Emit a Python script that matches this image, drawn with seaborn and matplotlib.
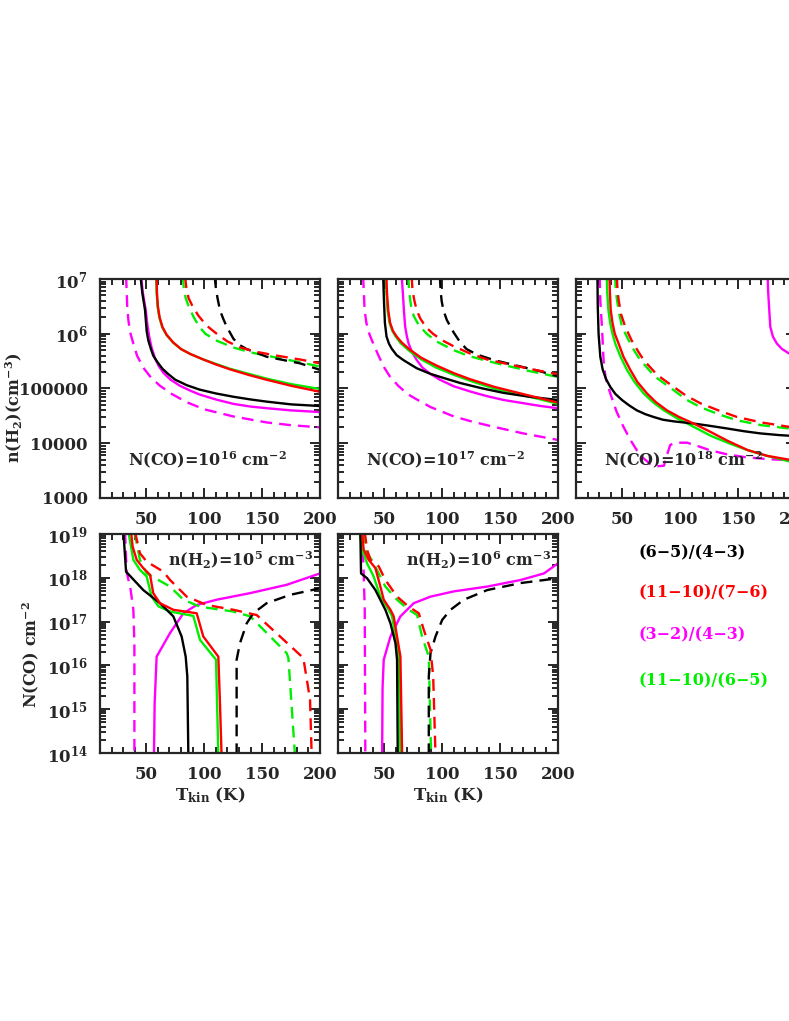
import numpy as np
import pandas as pd
import matplotlib
matplotlib.use("Agg")
import matplotlib.pyplot as plt
import seaborn as sns

# line ratio names and colours
RATIOS = ["(6-5)/(4-3)", "(11-10)/(7-6)", "(3-2)/(4-3)", "(11-10)/(6-5)"]
COLORS = {"k": "black", "r": "red", "m": "magenta", "g": "#00ee00"}

# ---- panel 1: N(CO)=1e16, log n(H2) vs Tkin ----
p1_k_solid = ([45, 46.5, 48.9, 50.3, 51.7, 54, 56, 60, 64, 68, 75, 85, 96, 110, 125, 140, 154, 175, 200],
              [7.05, 6.75, 6.43, 6.05, 5.88, 5.72, 5.6, 5.47, 5.36, 5.28, 5.16, 5.06, 4.98, 4.91, 4.85, 4.8,
               4.76, 4.71, 4.68])
p1_m_solid = ([45.5, 47, 49.5, 51, 52.5, 54.5, 57.5, 61, 65, 71, 79, 88, 96, 110, 125, 140, 154, 175, 200],
              [7.05, 6.75, 6.43, 6.15, 5.95, 5.75, 5.55, 5.4, 5.28, 5.16, 5.05, 4.96, 4.89, 4.8, 4.72, 4.67,
               4.64, 4.6, 4.57])
p1_m_dash = ([32.5, 33, 33.5, 34.5, 36, 38.8, 42, 47.4, 54, 61.8, 72, 84.9, 100, 125, 154, 175, 200],
             [7.05, 6.8, 6.5, 6.25, 6.03, 5.82, 5.6, 5.38, 5.2, 5.05, 4.9, 4.75, 4.62, 4.49, 4.38, 4.33, 4.29])
p1_r_solid = ([58.8, 59.2, 60, 61.5, 64, 67.6, 73.3, 80, 88, 99.2, 110, 122.3, 138, 153.9, 175, 200],
              [7.05, 6.75, 6.5, 6.3, 6.12, 5.98, 5.84, 5.72, 5.63, 5.53, 5.44, 5.35, 5.25, 5.16, 5.05, 4.94])
p1_g_solid = ([58.5, 58.9, 59.7, 61.2, 63.7, 67.3, 73, 80, 88, 99.2, 110, 122.3, 138, 153.9, 175, 200],
              [7.05, 6.75, 6.5, 6.3, 6.12, 5.98, 5.84, 5.72, 5.63, 5.53, 5.45, 5.36, 5.27, 5.18, 5.08, 4.99])
p1_r_dash = ([83.5, 84.5, 86.5, 90, 95, 102, 110.8, 120, 131, 145, 160, 182.7, 200],
             [7.05, 6.85, 6.65, 6.5, 6.33, 6.15, 6.0, 5.86, 5.75, 5.67, 5.61, 5.53, 5.46])
p1_g_dash = ([81.5, 82.3, 84, 87, 91, 96, 101, 110, 125, 140, 154, 182.7, 200],
             [7.05, 6.85, 6.65, 6.48, 6.3, 6.12, 6.0, 5.88, 5.75, 5.66, 5.6, 5.48, 5.4])
p1_k_dash = ([109, 110, 111.5, 113.6, 116.5, 119.4, 125.2, 130, 136.7, 154, 182.7, 200],
             [7.05, 6.85, 6.65, 6.43, 6.27, 6.13, 5.91, 5.8, 5.72, 5.58, 5.46, 5.34])

# ---- panel 2: N(CO)=1e17 ----
p2_k_solid = ([49, 49.7, 50.5, 51.9, 54, 56.3, 60.6, 66.4, 78, 89.5, 100, 115.6, 135, 153, 175, 200],
              [7.05, 6.6, 6.2, 5.95, 5.82, 5.73, 5.61, 5.52, 5.37, 5.27, 5.2, 5.1, 5.0, 4.92, 4.85, 4.79])
p2_m_solid = ([65, 66, 67, 68, 69.5, 71, 74, 78, 83, 89.5, 98, 110, 125, 138.7, 153, 167.6, 185, 200],
              [7.05, 6.75, 6.4, 6.13, 5.95, 5.82, 5.66, 5.52, 5.38, 5.27, 5.16, 5.04, 4.94, 4.86, 4.79, 4.74,
               4.68, 4.64])
p2_r_solid = ([51.8, 52.3, 53.4, 55, 57.5, 60.6, 65, 72, 82, 95, 110, 124, 145, 167.6, 185, 200],
              [7.05, 6.75, 6.43, 6.2, 6.05, 5.95, 5.84, 5.71, 5.56, 5.42, 5.28, 5.17, 5.03, 4.91, 4.82, 4.74])
p2_g_solid = ([51.3, 51.8, 52.8, 54.5, 57, 59.8, 64, 72, 82, 95, 110, 127, 145, 167.6, 185, 200],
              [7.05, 6.75, 6.43, 6.2, 6.05, 5.95, 5.83, 5.68, 5.53, 5.38, 5.25, 5.12, 5.0, 4.89, 4.8, 4.72])
p2_r_dash = ([73.6, 74.3, 76, 78, 81, 86, 92, 100, 110, 124, 138.7, 160, 180, 200],
             [7.05, 6.8, 6.6, 6.43, 6.28, 6.12, 6.0, 5.88, 5.77, 5.64, 5.53, 5.43, 5.34, 5.26])
p2_g_dash = ([70.7, 71.4, 72.5, 73.6, 76, 80, 86.6, 95, 110, 122, 135.8, 155, 175, 200],
             [7.05, 6.8, 6.6, 6.43, 6.3, 6.15, 6.0, 5.86, 5.7, 5.6, 5.52, 5.42, 5.32, 5.21])
p2_k_dash = ([98, 98.6, 99.5, 101, 104, 110, 115, 121, 130, 144.5, 160, 182, 200],
             [7.05, 6.8, 6.6, 6.43, 6.25, 6.02, 5.86, 5.72, 5.62, 5.52, 5.44, 5.33, 5.22])
p2_m_dash = ([31.7, 32.2, 33, 34.5, 37, 40.4, 45, 50, 54.8, 62, 70, 78, 90, 110, 125, 144.5, 170, 200],
             [7.05, 6.8, 6.43, 6.2, 6.0, 5.82, 5.6, 5.38, 5.22, 5.05, 4.9, 4.8, 4.66, 4.49, 4.4, 4.3, 4.18,
              4.06])

# ---- panel 3: N(CO)=1e18 ----
p3_k_solid = ([28.5, 28.8, 29.5, 31, 33, 36, 39.6, 44, 49.7, 56, 62.6, 70, 77, 85, 94.3, 111.6, 125, 140.4,
               155, 169.2, 185, 200],
              [7.05, 6.5, 6.0, 5.58, 5.35, 5.17, 5.03, 4.9, 4.79, 4.69, 4.6, 4.53, 4.48, 4.43, 4.4, 4.36, 4.32,
               4.27, 4.22, 4.18, 4.15, 4.13])
p3_r_solid = ([38.9, 39.3, 40, 41.5, 43.5, 46.8, 51, 56.9, 63, 71.3, 79, 88.6, 99, 111.6, 125, 140.4, 157.7,
               175, 194, 200],
              [7.05, 6.75, 6.43, 6.2, 6.0, 5.82, 5.58, 5.34, 5.12, 4.91, 4.75, 4.6, 4.48, 4.36, 4.22, 4.05,
               3.88, 3.77, 3.7, 3.68])
p3_g_solid = ([36.6, 37, 38, 39.5, 41.5, 43.9, 48.5, 54, 60.5, 68.4, 76.5, 86, 97, 111.6, 127, 143.3, 160,
               175, 194, 200],
              [7.05, 6.75, 6.43, 6.2, 6.0, 5.82, 5.58, 5.34, 5.12, 4.91, 4.75, 4.6, 4.46, 4.3, 4.13, 3.99,
               3.86, 3.77, 3.67, 3.64])
p3_r_dash = ([45.3, 45.8, 46.8, 49, 52.5, 58, 63, 68.4, 80, 94.3, 105, 117.4, 133, 149, 170, 194, 200],
             [7.05, 6.8, 6.62, 6.35, 6.13, 5.88, 5.7, 5.52, 5.25, 5.03, 4.87, 4.73, 4.6, 4.48, 4.38, 4.3, 4.28])
p3_g_dash = ([43.8, 44.3, 45.5, 47.5, 49.7, 55, 60, 65.5, 78, 94.3, 105, 117.4, 133, 149, 170, 194, 200],
             [7.05, 6.8, 6.6, 6.35, 6.13, 5.9, 5.7, 5.52, 5.22, 4.97, 4.8, 4.66, 4.53, 4.42, 4.33, 4.27, 4.25])
p3_m_dash = ([30.4, 31, 32.4, 33.8, 35.5, 39.6, 45, 51, 57, 62.6, 68, 74.2, 80, 86, 88, 91.4, 96, 106, 115,
              126, 140, 154.8, 175, 194, 200],
             [7.05, 6.6, 6.13, 5.52, 5.2, 4.91, 4.58, 4.3, 4.06, 3.87, 3.73, 3.62, 3.58, 3.59, 3.75, 3.97, 4.01,
              4.01, 3.95, 3.87, 3.8, 3.75, 3.71, 3.69, 3.68])
p3_m_solid = ([175.5, 176, 177, 177.8, 180, 183.5, 188, 194, 200],
              [7.05, 6.75, 6.4, 6.13, 5.95, 5.82, 5.72, 5.64, 5.58])

# ---- panel 4: n(H2)=1e5, log N(CO) vs Tkin ----
p4_k_solid = ([30.2, 32.5, 47.4, 61.8, 73.3, 80.5, 84, 85.4, 86.3],
              [19.05, 18.14, 17.72, 17.42, 17.12, 16.66, 16.20, 15.75, 13.95])
p4_r_solid = ([36.8, 38.2, 41.7, 47.4, 53.2, 56, 61.8, 73.3, 93.5, 99.2, 112.2, 113.6, 115],
              [19.05, 18.71, 18.41, 18.22, 18.07, 17.65, 17.42, 17.27, 17.19, 16.66, 16.20, 15.14, 13.95])
p4_g_solid = ([34.5, 36.8, 38.8, 44.5, 50.3, 54.6, 60.4, 70.5, 90.6, 96.4, 110.2, 112.2],
              [19.05, 18.71, 18.41, 18.18, 18.03, 17.57, 17.35, 17.23, 17.13, 16.58, 16.13, 13.95])
p4_r_dash = ([40.2, 44.5, 50.3, 64.7, 70.5, 84.9, 102.1, 125.2, 145.3, 165.5, 185.6, 191.4, 192.8],
             [19.05, 18.56, 18.37, 18.14, 17.95, 17.57, 17.38, 17.27, 17.15, 16.66, 16.17, 15.22, 13.95])
p4_g_dash = ([39.7, 44.5, 50.3, 70.5, 82, 96.4, 125.2, 139.6, 154, 171.2, 172.7, 178.4],
             [19.05, 18.41, 18.10, 17.80, 17.50, 17.34, 17.23, 17.12, 16.74, 16.28, 16.17, 13.95])
p4_k_dash = ([128, 128, 130.9, 136.7, 142.4, 153.9, 174.1, 200],
             [13.95, 16.13, 16.51, 16.96, 17.19, 17.42, 17.61, 17.76])
p4_m_solid = ([56.6, 57.2, 58.9, 70.5, 82, 93.5, 110.8, 139.6, 171.2, 200],
              [13.95, 15.14, 16.20, 16.74, 17.19, 17.38, 17.50, 17.65, 17.84, 18.10])
p4_m_dash = ([31.6, 33, 36.5, 38.8, 39.7, 39.7],
             [19.05, 18.14, 17.72, 17.27, 16.51, 13.95])

# ---- panel 5: n(H2)=1e6 ----
p5_k_solid = ([29.3, 29.9, 35.1, 42.3, 50.9, 55.3, 59.6, 61, 61.6],
              [19.05, 18.10, 17.99, 17.72, 17.27, 16.96, 16.51, 16.13, 13.95])
p5_r_solid = ([30.8, 32.2, 36.5, 42.3, 46.6, 49.5, 55.3, 58.1, 61, 63.9, 65.4],
              [19.05, 18.64, 18.41, 18.22, 17.80, 17.50, 17.27, 17.12, 16.66, 16.20, 13.95])
p5_g_solid = ([28.7, 30.8, 35.1, 40.8, 46.6, 53.8, 56.7, 62.5, 63.9],
              [19.05, 18.64, 18.33, 18.03, 17.57, 17.27, 17.12, 16.20, 13.95])
p5_r_dash = ([33.1, 35.1, 38, 45.2, 50.9, 61, 71.1, 79.8, 84.1, 89.9, 92.2, 94.2],
             [19.05, 18.64, 18.41, 18.26, 17.95, 17.57, 17.34, 17.19, 16.81, 16.36, 15.75, 13.95])
p5_g_dash = ([31.6, 33.6, 40.8, 50.9, 61, 71.1, 78.3, 82.6, 88.4, 90.4],
             [19.05, 18.64, 18.33, 17.80, 17.50, 17.27, 17.15, 16.66, 16.20, 13.95])
p5_k_dash = ([88.4, 88.4, 89.9, 94.2, 100, 107.2, 118.7, 138.9, 167.7, 200],
             [13.95, 15.75, 16.28, 16.66, 17.04, 17.27, 17.50, 17.72, 17.88, 17.99])
p5_m_solid = ([48.1, 48.5, 49.5, 55.3, 63.9, 75.4, 89.9, 110, 138.9, 167.7, 187.9, 200],
              [13.95, 15.5, 16.13, 16.66, 17.12, 17.42, 17.57, 17.69, 17.80, 17.95, 18.10, 18.33])
p5_m_dash = ([30.8, 32.2, 33.1, 33.6],
             [19.05, 18.10, 17.27, 13.95])

panel_curves = [
    [("m", "-", p1_m_solid), ("m", "--", p1_m_dash), ("g", "-", p1_g_solid), ("g", "--", p1_g_dash),
     ("k", "-", p1_k_solid), ("k", "--", p1_k_dash), ("r", "-", p1_r_solid), ("r", "--", p1_r_dash)],
    [("m", "-", p2_m_solid), ("m", "--", p2_m_dash), ("g", "-", p2_g_solid), ("g", "--", p2_g_dash),
     ("k", "-", p2_k_solid), ("k", "--", p2_k_dash), ("r", "-", p2_r_solid), ("r", "--", p2_r_dash)],
    [("m", "-", p3_m_solid), ("m", "--", p3_m_dash), ("g", "-", p3_g_solid), ("g", "--", p3_g_dash),
     ("k", "-", p3_k_solid), ("r", "-", p3_r_solid), ("r", "--", p3_r_dash)],
    [("m", "-", p4_m_solid), ("m", "--", p4_m_dash), ("g", "-", p4_g_solid), ("g", "--", p4_g_dash),
     ("k", "-", p4_k_solid), ("k", "--", p4_k_dash), ("r", "-", p4_r_solid), ("r", "--", p4_r_dash)],
    [("m", "-", p5_m_solid), ("m", "--", p5_m_dash), ("g", "-", p5_g_solid), ("g", "--", p5_g_dash),
     ("k", "-", p5_k_solid), ("k", "--", p5_k_dash), ("r", "-", p5_r_solid), ("r", "--", p5_r_dash)],
]
panel_labels = [r"N(CO)=10$^{16}$ cm$^{-2}$", r"N(CO)=10$^{17}$ cm$^{-2}$", r"N(CO)=10$^{18}$ cm$^{-2}$",
                r"n(H$_2$)=10$^{5}$ cm$^{-3}$", r"n(H$_2$)=10$^{6}$ cm$^{-3}$"]

sns.set_style("ticks")
plt.rcParams["font.family"] = ["DejaVu Serif"]
plt.rcParams["font.weight"] = "bold"
plt.rcParams["mathtext.fontset"] = "custom"
plt.rcParams["mathtext.rm"] = "DejaVu Serif:bold"
plt.rcParams["mathtext.bf"] = "DejaVu Serif:bold"
plt.rcParams["mathtext.it"] = "DejaVu Serif:bold"
plt.rcParams["mathtext.default"] = "bf"

W, H = 789, 1021
fig = plt.figure(figsize=(W / 100, H / 100), dpi=100)


def frac(x0, y0, w, h):
    return [x0 / W, 1 - (y0 + h) / H, w / W, h / H]


boxes = [frac(100, 279, 220, 219), frac(338, 279, 220, 219), frac(576, 279, 220, 219),
         frac(100, 534, 220, 219), frac(338, 534, 220, 219)]

for i, box in enumerate(boxes):
    ax = fig.add_axes(box)
    for c, ls, (t, v) in panel_curves[i]:
        df = pd.DataFrame({"T": t, "val": 10 ** np.array(v)})
        sns.lineplot(data=df, x="T", y="val", ax=ax, sort=False, estimator=None,
                     color=COLORS[c], lw=1.7,
                     linestyle=(0, (5, 3)) if ls == "--" else "-")
    ax.set_yscale("log")
    ax.set_xlim(10, 200)
    top = i < 3
    ax.set_ylim((1e3, 1e7) if top else (1e14, 1e19))
    ax.set_xticks([50, 100, 150, 200])
    ax.set_xticks(np.arange(10, 200, 10), minor=True)
    ax.tick_params(which="both", direction="in", top=True, right=True, width=1.4, labelsize=12)
    ax.tick_params(which="major", length=7, pad=9)
    ax.tick_params(which="minor", length=4)
    for s in ax.spines.values():
        s.set_linewidth(1.6)
    ax.set_xlabel("")
    ax.set_ylabel("")
    if top:
        ax.set_yticks([1e3, 1e4, 1e5, 1e6, 1e7])
        ax.set_yticklabels(["1000", "10000", "100000", r"10$^6$", r"10$^7$"])
    else:
        ax.set_yticks([10.0 ** k for k in range(14, 20)])
        ax.set_yticklabels([r"10$^{%d}$" % k for k in range(14, 20)])
    ax.yaxis.set_minor_locator(matplotlib.ticker.LogLocator(base=10, subs=np.arange(2, 10), numticks=20))
    ax.yaxis.set_minor_formatter(matplotlib.ticker.NullFormatter())
    if i not in (0, 3):
        ax.set_yticklabels([])
    for lab in ax.get_xticklabels() + ax.get_yticklabels():
        lab.set_fontweight("bold")
    if top:
        ax.text(0.125, 0.175, panel_labels[i], transform=ax.transAxes, fontsize=11.5,
                fontweight="bold", va="center")
    else:
        ax.text(0.31, 0.88, panel_labels[i], transform=ax.transAxes, fontsize=11.5,
                fontweight="bold", va="center")
        ax.set_xlabel(r"T$_{kin}$ (K)", fontsize=12, fontweight="bold", labelpad=2)

fig.text(14 / W, 1 - 408 / H, r"n(H$_2$)(cm$^{-3}$)", rotation=90, ha="center", va="center",
         fontsize=11.5, fontweight="bold")
fig.text(31 / W, 1 - 655 / H, r"N(CO) cm$^{-2}$", rotation=90, ha="center", va="center",
         fontsize=11.5, fontweight="bold")

leg_y = [553, 593, 635, 681]
for name, c, y in zip(RATIOS, ["k", "r", "m", "g"], leg_y):
    fig.text(638 / W, 1 - y / H, name.replace("-", "\u2212"), color=COLORS[c], ha="left", va="center",
             fontsize=11.5, fontweight="bold")

fig.savefig("out.png", dpi=100)
